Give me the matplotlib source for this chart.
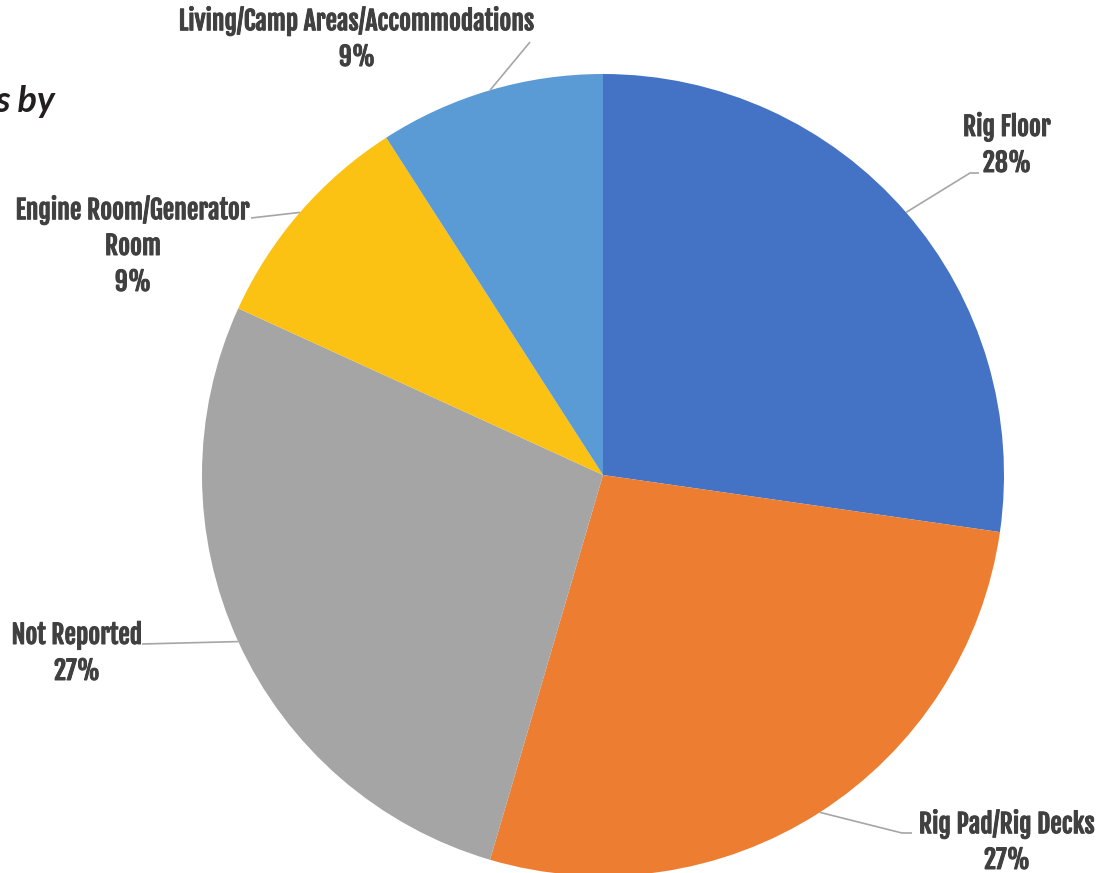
import numpy as np
import matplotlib
matplotlib.use("Agg")
import matplotlib.pyplot as plt
import matplotlib.patheffects as pe
from matplotlib import font_manager

categories = ["Rig Floor", "Rig Pad/Rig Decks", "Not Reported",
              "Engine Room/Generator\nRoom", "Living/Camp Areas/Accommodations"]
values = [3, 3, 3, 1, 1]
pct_labels = ["28%", "27%", "27%", "9%", "9%"]
colors = ["#4472C4", "#ED7D31", "#A5A5A5", "#FBC113", "#5B9BD5"]

W, H = 1116, 873
names = {f.name for f in font_manager.fontManager.ttflist}
lab_font, lab_weight = "DejaVu Sans", "bold"
for cand, wt in [("Fjalla One", "normal"), ("Roboto Condensed", "bold"),
                 ("Barlow Condensed", "semibold")]:
    if cand in names:
        lab_font, lab_weight = cand, wt
        break
title_font = "Lato" if "Lato" in names else "Carlito"

fig = plt.figure(figsize=(W / 100, H / 100), dpi=100)
ax = fig.add_axes([0, 0, 1, 1])

cx, cy, r = 603, H - 475, 401
wedges, _ = ax.pie(values, colors=colors, startangle=90, counterclock=False,
                   center=(cx, cy), radius=r, frame=True,
                   wedgeprops=dict(linewidth=0))
ax.set_xlim(0, W)
ax.set_ylim(0, H)
ax.set_aspect("equal")
ax.axis("off")

layout = [
    dict(x=1007, y=127, elbow=(970, 173), end=(979, 173)),
    dict(x=1007, y=824, elbow=(902, 833), end=(912, 833)),
    dict(x=77, y=635, elbow=(142, 644), end=(142, 644)),
    dict(x=133, y=210, elbow=(251, 218), end=(251, 218)),
    dict(x=357, y=21, elbow=(530, 42), end=(530, 42)),
]
line_h = 36
effects = [pe.withStroke(linewidth=0.7, foreground="#404040")]
for w, cat, pct, lay in zip(wedges, categories, pct_labels, layout):
    th = np.deg2rad((w.theta1 + w.theta2) / 2)
    p0 = (cx + r * np.cos(th), cy + r * np.sin(th))
    ex, ey = lay["elbow"]
    fx, fy = lay["end"]
    ax.plot([p0[0], ex, fx], [p0[1], H - ey, H - fy], color="#A6A6A6", lw=1.2,
            solid_capstyle="butt", zorder=1)
    lines = cat.split("\n") + [pct]
    for i, t in enumerate(lines):
        ax.text(lay["x"], H - (lay["y"] + i * line_h), t, ha="center", va="center",
                fontsize=18.5, fontweight=lab_weight, color="#404040", family=lab_font,
                path_effects=effects)

fig.text(55 / W, 1 - 112 / H, "s by", ha="right", va="baseline", fontsize=26,
         fontstyle="italic", fontweight="bold", color="#231F20", family=title_font)

fig.savefig("out.png", dpi=100)
